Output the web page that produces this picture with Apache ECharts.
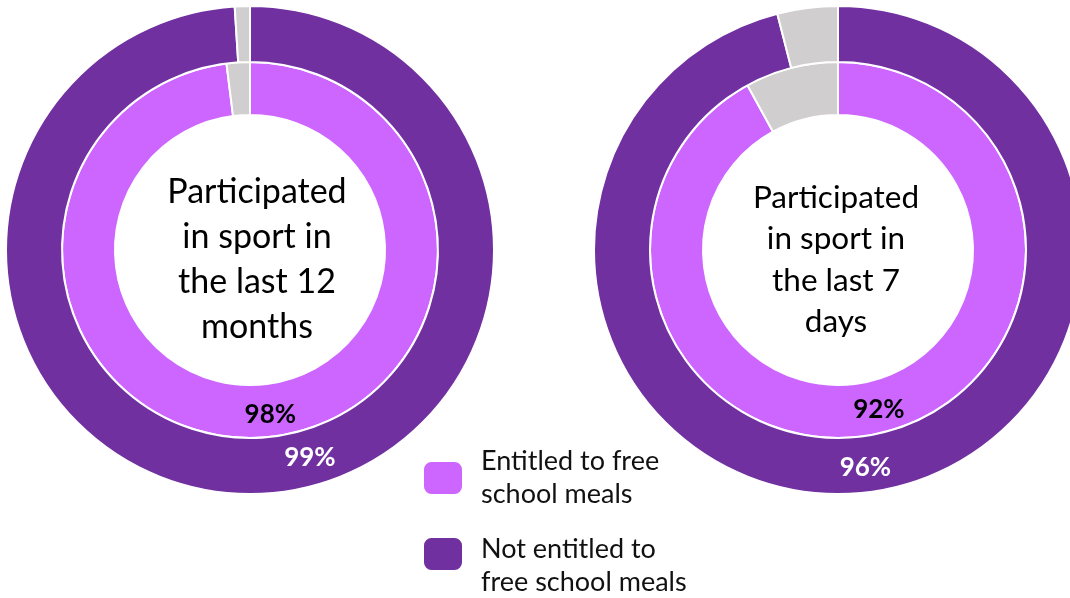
<!DOCTYPE html>
<html>
<head>
<meta charset="utf-8">
<script src="https://cdn.jsdelivr.net/npm/echarts@6/dist/echarts.min.js"></script>
<style>
  html, body { margin: 0; padding: 0; background: #fff; }
  #chart { width: 1070px; height: 598px; }
</style>
</head>
<body>
<div id="chart"></div>
<script>
// groups: inner ring first, outer ring second
const groups = ['Entitled to free school meals', 'Not entitled to free school meals']
const legendText = ['Entitled to free\nschool meals', 'Not entitled to\nfree school meals']

const panelTitles = [
  'Participated\nin sport in\nthe last 12\nmonths',
  'Participated\nin sport in\nthe last 7\ndays'
]
const participated12m = [98, 99]
const notParticipated12m = [2, 1]
const participated7d = [92, 96]
const notParticipated7d = [8, 4]

const colors = ['#CC66FF', '#7030A0']
const gray = '#D0CECE'
const font = 'Lato, "Open Sans", sans-serif'

const chart = echarts.init(document.getElementById('chart'))

const ringSeries = (center, values, rest, ring, radius, shift) => ({
  type: 'pie',
  center,
  radius,
  startAngle: 90,
  clockwise: true,
  silent: true,
  avoidLabelOverlap: false,
  itemStyle: { borderColor: '#fff', borderWidth: 2 },
  label: {
    show: true,
    position: 'inside',
    formatter: '{c}%',
    fontFamily: font,
    fontWeight: 'bold',
    fontSize: 26,
    color: ring === 0 ? '#000' : '#fff'
  },
  labelLine: { show: false },
  labelLayout: shift ? () => ({ dx: shift[0], dy: shift[1] }) : undefined,
  data: [
    { name: groups[ring], value: values[ring], itemStyle: { color: colors[ring] } },
    { name: 'Did not participate', value: rest[ring], itemStyle: { color: gray }, label: { show: false } }
  ]
})

// one legend per entry so each can sit where the original has it;
// the second entry's text sits a little lower than its swatch
const legendItem = (i, top, drop) => ({
  orient: 'vertical',
  left: 422,
  top,
  padding: 0,
  data: [groups[i]],
  icon: 'roundRect',
  itemWidth: 40,
  itemHeight: 34,
  selectedMode: false,
  formatter: name => (drop ? '{gap| }\n' : '') + legendText[groups.indexOf(name)],
  textStyle: {
    fontFamily: font, fontSize: 27, lineHeight: 33, color: '#111', padding: [0, 0, 0, 13],
    rich: { gap: { lineHeight: drop, fontSize: 10 } }
  }
})

chart.setOption({
  backgroundColor: '#fff',
  animation: false,
  title: [
    {
      text: panelTitles[0],
      left: 257, top: 170, textAlign: 'center', padding: 0,
      textStyle: { fontFamily: font, fontWeight: 'normal', fontSize: 34, lineHeight: 45, color: '#000' }
    },
    {
      text: panelTitles[1],
      left: 836, top: 177, textAlign: 'center', padding: 0,
      textStyle: { fontFamily: font, fontWeight: 'normal', fontSize: 31.5, lineHeight: 41.5, color: '#000' }
    }
  ],
  legend: [legendItem(0, 445, 0), legendItem(1, 509, 24)],
  series: [
    ringSeries([250, 250], participated12m, notParticipated12m, 0, [135, 188], [10, 0]),
    ringSeries([250, 250], participated12m, notParticipated12m, 1, [188, 244], [53, -11]),
    ringSeries([838, 250], participated7d, notParticipated7d, 0, [135, 188]),
    ringSeries([838, 250], participated7d, notParticipated7d, 1, [188, 244])
  ]
})
</script>
</body>
</html>
